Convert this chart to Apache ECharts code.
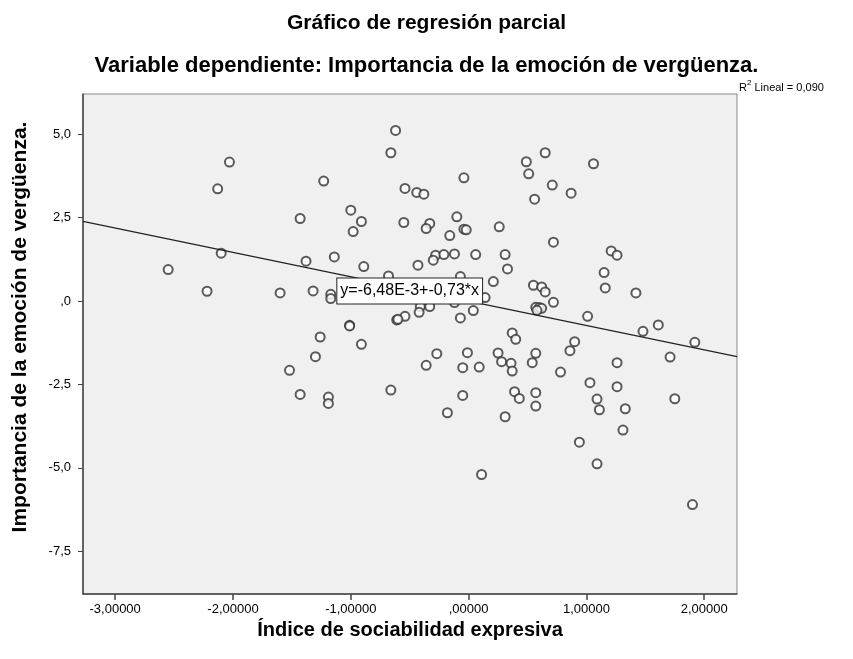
<!DOCTYPE html>
<html>
<head>
<meta charset="utf-8">
<script src="https://cdn.jsdelivr.net/npm/echarts@6/dist/echarts.min.js"></script>
<style>
  html, body { margin: 0; padding: 0; background: #ffffff; }
  #chart { width: 853px; height: 659px; }
</style>
</head>
<body>
<div id="chart"></div>
<script>
// Índice de sociabilidad expresiva (residual)
const xValues = [
  -2.03, -2.13, -1.43, -2.10, -1.38, -0.62, -0.66, 0.49, 0.51, -1.23,
  -0.04, -0.54, -0.44, -0.38, -1.00, -0.91, -0.98, -0.55, -0.33, -0.36,
  -0.10, -0.16, -0.04, -0.02, 0.26, -1.14, -0.89, -0.43, -0.28, -0.30,
  -0.21, -0.12, 0.06, 0.31, 0.65, 1.06, 0.71, 0.87, 0.56, 0.72,
  1.21, 1.26, -2.55, -2.22, -1.60, -1.32, -1.52, -1.43, 0.33, 0.21,
  -1.17, -1.17, -0.68, -0.07, 0.14, -0.41, -0.33, -0.12, -0.42, -0.54,
  -0.61, -0.60, -0.07, 0.04, -1.01, -1.01, -1.26, -0.91, -1.30, -0.27,
  -0.36, -0.01, -0.05, 0.09, 0.25, 0.28, 0.36, 0.37, 0.37, 0.40,
  -1.19, -1.19, -0.66, -0.05, -0.18, 0.31, 0.39, 0.43, 1.15, 1.16,
  1.42, 0.55, 0.62, 0.65, 0.72, 0.57, 0.60, 0.62, 0.58, 1.01,
  1.61, 1.48, 1.92, 1.71, 1.26, 0.90, 0.86, 0.57, 0.54, 0.78,
  1.03, 1.26, 1.09, 1.11, 1.33, 1.75, 1.31, 0.57, 0.57, 0.11,
  0.94, 1.09, 1.90
]
// Importancia de la emoción de vergüenza (residual)
const yValues = [
  4.16, 3.36, 2.47, 1.43, 1.19, 5.11, 4.44, 4.17, 3.81, 3.59,
  3.69, 3.37, 3.25, 3.20, 2.72, 2.38, 2.08, 2.35, 2.32, 2.17,
  2.52, 1.96, 2.15, 2.13, 2.22, 1.32, 1.03, 1.07, 1.37, 1.22,
  1.39, 1.41, 1.39, 1.39, 4.44, 4.11, 3.47, 3.23, 3.05, 1.76,
  1.50, 1.37, 0.94, 0.29, 0.24, 0.30, -2.08, -2.80, 0.96, 0.58,
  0.20, 0.07, 0.75, 0.73, 0.10, -0.17, -0.17, -0.05, -0.34, -0.46,
  -0.57, -0.55, -0.51, -0.29, -0.73, -0.75, -1.08, -1.30, -1.67, -1.58,
  -1.93, -1.55, -2.00, -1.98, -1.56, -1.82, -1.87, -2.10, -0.96, -1.15,
  -2.88, -3.07, -2.67, -2.83, -3.35, -3.47, -2.72, -2.92, 0.85, 0.39,
  0.24, 0.47, 0.42, 0.27, -0.04, -0.19, -0.20, -0.22, -0.28, -0.46,
  -0.72, -0.91, -1.24, -1.68, -1.85, -1.22, -1.49, -1.57, -1.85, -2.13,
  -2.45, -2.57, -2.94, -3.26, -3.23, -2.93, -3.87, -2.75, -3.15, -5.20,
  -4.23, -4.88, -6.10
]

// fit line endpoints, read at the plot edges
const fitX = [-3.273, 2.278]
const fitY = [2.383, -1.669]

const xTicks = [-3, -2, -1, 0, 1, 2]
const xTickLabels = ['-3,00000', '-2,00000', '-1,00000', ',00000', '1,00000', '2,00000']
const yTicks = [-7.5, -5, -2.5, 0, 2.5, 5]
const yTickLabels = ['-7,5', '-5,0', '-2,5', ',0', '2,5', '5,0']

const equationText = 'y=-6,48E-3+-0,73*x'
const equationPos = [-0.50, 0.30]

const FONT = '"Liberation Sans", Arial, sans-serif'
const chart = echarts.init(document.getElementById('chart'))

function tickLabel(ticks, labels) {
  return (value) => {
    const i = ticks.findIndex((t) => Math.abs(t - value) < 1e-6)
    return i >= 0 ? labels[i] : ''
  }
}

const option = {
  animation: false,
  backgroundColor: '#ffffff',
  textStyle: { fontFamily: FONT },
  title: [
    {
      text: 'Gráfico de regresión parcial',
      left: 'center',
      top: 8,
      textStyle: { fontSize: 21, fontWeight: 'bold', color: '#000', fontFamily: FONT }
    },
    {
      text: 'Variable dependiente: Importancia de la emoción de vergüenza.',
      left: 'center',
      top: 50,
      textStyle: { fontSize: 22, fontWeight: 'bold', color: '#000', fontFamily: FONT }
    },
    {
      text: '{a|R}{s|2}{a| Lineal = 0,090}',
      left: 739,
      top: 79,
      padding: 0,
      textStyle: {
        fontWeight: 'normal',
        rich: {
          a: { fontSize: 11, fontWeight: 'normal', color: '#000', fontFamily: FONT, verticalAlign: 'bottom', lineHeight: 14 },
          s: { fontSize: 8, fontWeight: 'normal', color: '#000', fontFamily: FONT, verticalAlign: 'top', lineHeight: 14 }
        }
      }
    }
  ],
  grid: {
    left: 83,
    right: 116,
    top: 94,
    bottom: 65,
    show: true,
    backgroundColor: '#f0f0f0',
    borderColor: '#888888',
    borderWidth: 1
  },
  xAxis: {
    type: 'value',
    min: fitX[0],
    max: fitX[1],
    name: 'Índice de sociabilidad expresiva',
    nameLocation: 'middle',
    nameGap: 25,
    nameTextStyle: { fontSize: 20, fontWeight: 'bold', color: '#000', fontFamily: FONT },
    axisLine: { show: true, onZero: false, lineStyle: { color: '#444', width: 1.5 } },
    axisTick: { show: true, length: 6, customValues: xTicks, lineStyle: { color: '#444', width: 1.5 } },
    axisLabel: {
      customValues: xTicks,
      formatter: tickLabel(xTicks, xTickLabels),
      fontSize: 13,
      color: '#000',
      margin: 9,
      fontFamily: FONT
    },
    splitLine: { show: false }
  },
  yAxis: {
    type: 'value',
    min: -8.78,
    max: 6.2,
    name: 'Importancia de la emoción de vergüenza.',
    nameLocation: 'middle',
    nameGap: 52,
    nameRotate: 90,
    nameTextStyle: { fontSize: 21, fontWeight: 'bold', color: '#000', fontFamily: FONT, padding: [0, 0, 0, 34] },
    axisLine: { show: true, onZero: false, lineStyle: { color: '#444', width: 1.5 } },
    axisTick: { show: true, length: 5, customValues: yTicks, lineStyle: { color: '#444', width: 1 } },
    axisLabel: {
      customValues: yTicks,
      formatter: tickLabel(yTicks, yTickLabels),
      fontSize: 13,
      color: '#000',
      margin: 12,
      fontFamily: FONT
    },
    splitLine: { show: false }
  },
  series: [
    {
      name: 'Ajuste',
      type: 'line',
      data: fitX.map((x, i) => [x, fitY[i]]),
      showSymbol: false,
      symbol: 'none',
      lineStyle: { color: '#222', width: 1.2 },
      z: 2,
      markPoint: {
        symbol: 'rect',
        symbolSize: 1,
        itemStyle: { color: 'transparent' },
        data: [{
          coord: equationPos,
          label: {
            show: true,
            formatter: equationText,
            position: 'inside',
            fontSize: 16,
            color: '#000',
            fontFamily: FONT,
            backgroundColor: '#ffffff',
            borderColor: '#222',
            borderWidth: 1,
            padding: [5, 3, 4, 3]
          }
        }]
      }
    },
    {
      name: 'Residuos',
      type: 'scatter',
      data: xValues.map((x, i) => [x, yValues[i]]),
      symbol: 'emptyCircle',
      symbolSize: 9,
      itemStyle: { color: '#333', borderColor: '#333', borderWidth: 1.3 },
      z: 1
    }
  ]
}

chart.setOption(option)
</script>
</body>
</html>
